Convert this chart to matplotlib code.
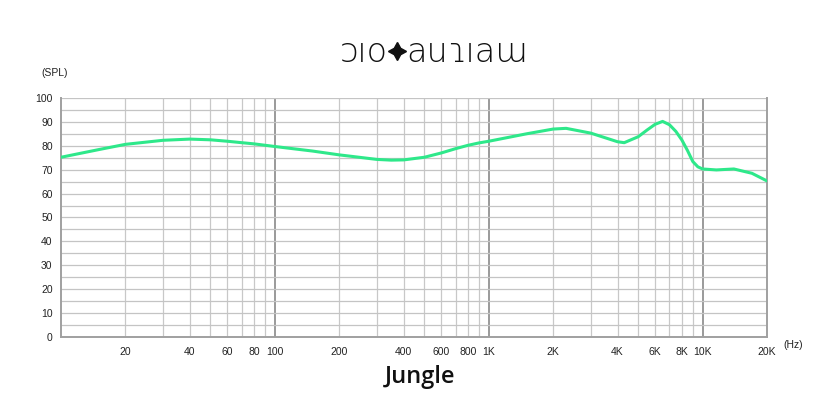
import numpy as np
import matplotlib
matplotlib.use("Agg")
from matplotlib import pyplot as plt

# frequency response
freq = [10, 15, 20, 30, 40, 50, 60, 70, 80, 100, 150, 200, 300, 350, 400, 500,
        600, 700, 800, 900, 1000, 1500, 2000, 2300, 3000, 4000, 4300, 5000,
        5500, 6000, 6500, 7000, 7500, 8000, 8500, 9000, 9500, 10000, 11600,
        14000, 17000, 20000]
spl = [75.2, 78.4, 80.6, 82.3, 82.8, 82.5, 81.9, 81.3, 80.8, 79.7, 77.8, 76.2,
       74.3, 74.0, 74.1, 75.2, 77.0, 78.8, 80.2, 81.2, 81.9, 85.0, 87.0, 87.3,
       85.3, 81.7, 81.3, 83.8, 86.6, 89.0, 90.2, 88.8, 86.0, 82.4, 78.0, 73.4,
       71.2, 70.3, 69.9, 70.3, 68.5, 65.3]

xticks = [20, 40, 60, 80, 100, 200, 400, 600, 800, 1000, 2000, 4000, 6000,
          8000, 10000, 20000]
xlabels = ["20", "40", "60", "80", "100", "200", "400", "600", "800", "1K",
           "2K", "4K", "6K", "8K", "10K", "20K"]
yticks = list(range(0, 101, 10))

plt.rcParams['font.family'] = ['Liberation Sans', 'DejaVu Sans']

fig = plt.figure(figsize=(8.4, 4.2), dpi=100)
ax = fig.add_axes([0.0726, 0.1976, 0.8405, 0.5691])

# grid
minor_x = [m * d for d in (10, 100, 1000) for m in range(2, 10)]
for f in minor_x:
    ax.axvline(f, color="#c8c8c8", lw=0.9, zorder=0)
for f in (100, 1000, 10000):
    ax.axvline(f, color="#9a9a9a", lw=1.4, zorder=0)
for v in range(5, 101, 5):
    ax.axhline(v, color="#c4c4c4", lw=0.9, zorder=0)

ax.plot(freq, spl, color="#2ee88a", lw=2.2, solid_capstyle="round", zorder=3)

ax.set_xscale("log")
ax.set_xlim(10, 20000)
ax.set_ylim(0, 100)
ax.set_xticks(xticks)
ax.set_xticklabels(xlabels)
ax.xaxis.set_minor_locator(matplotlib.ticker.NullLocator())
ax.set_yticks(yticks)
ax.tick_params(length=0, labelsize=7.5, colors="#222222", pad=7)
ax.tick_params(axis="y", pad=6)

for s in ("left", "bottom", "right"):
    ax.spines[s].set_color("#a0a0a0")
    ax.spines[s].set_linewidth(1.4)
ax.spines["top"].set_visible(False)

fig.text(41 / 840, 1 - 73 / 420, "(SPL)", fontsize=7.5, color="#222222",
         ha="left", va="center")
fig.text(783 / 840, 1 - 345 / 420, "(Hz)", fontsize=7.5, color="#222222",
         ha="left", va="center")

# logo: text either side of a four-point star (no installed font has ✦)
logo_y = 1 - 52 / 420
fig.text(388 / 840, logo_y, "ɔıo", fontsize=24, color="#111111",
         ha="right", va="center", fontweight="light", family=["DejaVu Sans"])
fig.text(406 / 840, logo_y, "auɿıaɯ", fontsize=24, color="#111111",
         ha="left", va="center", fontweight="light", family=["DejaVu Sans"])
fig.add_artist(matplotlib.lines.Line2D([397 / 840], [logo_y + 0.002],
                                       marker=(4, 1, 0), markersize=13,
                                       color="#111111", lw=0,
                                       transform=fig.transFigure))

fig.text(0.5, 1 - 377 / 420, "Jungle", fontsize=17, color="#111111",
         ha="center", va="center", fontweight="semibold",
         family=["Open Sans", "DejaVu Sans"])

fig.savefig("out.png", dpi=100, facecolor="white")
